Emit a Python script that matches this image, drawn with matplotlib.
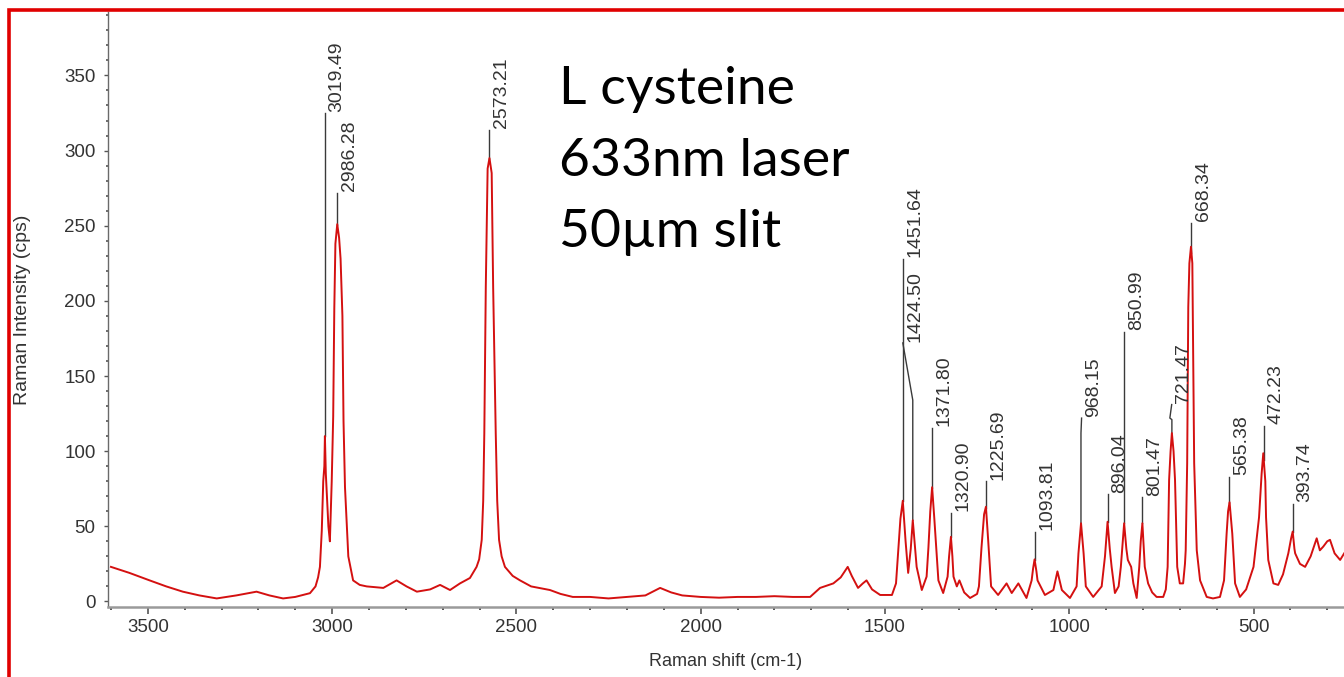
import numpy as np
import matplotlib.pyplot as plt
from matplotlib.lines import Line2D
from matplotlib.ticker import MultipleLocator

# Raman spectrum of L-cysteine (shift in cm-1, intensity in cps)
shift_cm = [
    3600, 3550, 3495, 3450, 3405, 3360, 3313, 3260, 3205, 3170,
    3133, 3100, 3060, 3045, 3038, 3033, 3028, 3024, 3021, 3019.5,
    3017, 3014, 3010, 3006, 3001, 2997, 2994, 2991, 2986, 2981,
    2977, 2972, 2969, 2965, 2956, 2943, 2925, 2906, 2861, 2825,
    2798, 2770, 2734, 2707, 2680, 2653, 2626, 2608, 2601, 2594,
    2590, 2587, 2583, 2578, 2573, 2567, 2563, 2556, 2552, 2547,
    2540, 2531, 2510, 2490, 2460, 2409, 2380, 2347, 2300, 2250,
    2200, 2150, 2110, 2080, 2050, 2000, 1950, 1900, 1850, 1800,
    1750, 1703, 1676, 1640, 1620, 1601, 1590, 1573, 1560, 1550,
    1535, 1513, 1481, 1470, 1465, 1458, 1451.6, 1444, 1437, 1430,
    1424.5, 1419, 1414, 1400, 1387, 1382, 1377, 1372, 1366, 1361,
    1355, 1342, 1330, 1326, 1321, 1317, 1314, 1305, 1298, 1285,
    1269, 1250, 1245, 1238, 1231, 1226, 1220, 1212, 1193, 1170,
    1156, 1138, 1116, 1102, 1098, 1094, 1089, 1086, 1066, 1043,
    1032, 1020, 998, 980, 975, 968, 961, 955, 935, 912,
    903, 896, 890, 885, 876, 866, 860, 851, 845, 841,
    832, 826, 817, 810, 806, 801.5, 795, 786, 775, 763,
    745, 738, 733, 729, 725, 721.5, 717, 713, 707, 700,
    691, 686, 684, 680, 677, 674, 669.7, 666, 663.4, 661,
    654, 645, 627, 610, 591, 580, 573, 569, 565, 561,
    557.6, 550, 537, 520, 500, 485, 478, 473.5, 468, 466,
    460, 446, 433, 420, 405.6, 398, 393.7, 389, 387, 374,
    360, 345, 328.6, 320, 310.7, 300, 292.5, 280, 265, 254,
]
intensity_cps = [
    23, 19, 14, 10, 6.5, 4, 2, 4, 6.5, 4,
    2, 3, 5.5, 10, 16, 23, 47, 80, 90, 110,
    85, 70, 50, 40, 80, 123, 195, 238, 251, 242,
    228, 190, 120, 76, 30, 14, 11, 10, 9, 14,
    10, 6.5, 8, 11, 7.6, 12, 15.6, 23, 28, 41,
    67, 112, 209, 288, 295, 285, 209, 112, 67, 41,
    30, 23, 17, 14, 10, 7.6, 5, 3, 3, 2,
    3, 4, 9, 6, 4, 3, 2.5, 3, 3, 3.5,
    3, 3, 9, 12, 16, 23, 17, 9, 12, 14,
    8, 4.3, 4.3, 12, 30, 55, 67, 40, 19, 35,
    54, 38, 23, 7.6, 16.5, 36, 60, 76, 55, 36,
    14, 5.6, 16.5, 30, 43, 30, 16.5, 10, 14, 6,
    2.3, 5, 10, 36, 58, 63, 41, 10, 4.3, 12,
    5.6, 12, 2.3, 14, 22, 28, 20, 14, 4.3, 7.6,
    20, 7.6, 2.3, 10, 32, 52, 32, 10, 3, 10,
    30, 53, 35, 23, 5.6, 10, 23, 52, 35, 27.6,
    23, 12, 2.3, 23, 40, 52, 23, 12, 6, 3,
    3, 8, 23, 81, 100, 112, 100, 81, 23, 12,
    12, 25, 34, 92, 196, 225, 236, 225, 156, 92,
    34, 14, 3, 2, 3, 14, 45, 60, 66, 55,
    45, 12, 3, 8, 23, 56, 85, 98.6, 80, 56,
    27.6, 12, 11, 18, 32, 42, 46.5, 35, 32, 25,
    23, 30, 42, 34, 36.5, 40, 41, 32, 27.6, 32,
]

# picked peaks and the height their leader line reaches
peak_labels = ["3019.49", "2986.28", "2573.21", "1451.64", "1424.50", "1371.80",
               "1320.90", "1225.69", "1093.81", "968.15", "896.04", "850.99",
               "801.47", "721.47", "668.34", "565.38", "472.23", "393.74"]
leader_top = [325, 272, 314, 228, 172, 115.5, 59, 80, 46.5, 122, 71.5, 179.5,
              69.5, 123, 252, 83, 117, 65]
# leaders that do not run straight up: intermediate points, last one is the label anchor
leader_bends = {
    "1424.50": [(1424.5, 134), (1451.5, 172)],
    "968.15": [(968.15, 112), (966.5, 122)],
    "721.47": [(721.47, 121), (727.0, 122), (722.0, 131)],
}

text_dark = "#333333"

fig = plt.figure(figsize=(13.44, 6.77), dpi=100)
ax = fig.add_axes([108 / 1344, 70 / 677, 1 - 108 / 1344, 595 / 677])

ax.plot(shift_cm, intensity_cps, color="#d41010", lw=1.4, zorder=3)

shift_asc = np.array(shift_cm)[::-1]
counts_asc = np.array(intensity_cps)[::-1]
for label, top in zip(peak_labels, leader_top):
    pos = float(label)
    base = np.interp(pos, shift_asc, counts_asc)
    pts = [(pos, base)] + leader_bends.get(label, [(pos, top)])
    xs, ys = zip(*pts)
    ax.plot(xs, ys, color="#3a3a3a", lw=1.0, zorder=2)
    ax.annotate(label, xy=pts[-1], xytext=(8.8, 1.0), textcoords="offset points",
                rotation=90, ha="center", va="bottom", fontsize=14,
                color=text_dark, family="Liberation Sans")

ax.set_xlim(3608, 254.5)
ax.set_ylim(-3.7, 392.2)

ax.xaxis.set_major_locator(MultipleLocator(500))
ax.xaxis.set_minor_locator(MultipleLocator(100))
ax.yaxis.set_major_locator(MultipleLocator(50))
ax.yaxis.set_minor_locator(MultipleLocator(10))
ax.set_yticks(np.arange(0, 351, 50))

for side in ("top", "right"):
    ax.spines[side].set_visible(False)
ax.spines["left"].set_color("#6a6a6a")
ax.spines["left"].set_linewidth(1.0)
ax.spines["bottom"].set_color("#9a9a9a")
ax.spines["bottom"].set_linewidth(1.8)

ax.tick_params(axis="both", which="both", colors="#555555", labelcolor=text_dark,
               labelsize=13.5)
ax.tick_params(axis="y", which="major", direction="out", length=3, width=1, pad=6)
ax.tick_params(axis="y", which="minor", direction="out", length=1.5, width=1.2)
ax.tick_params(axis="x", which="major", direction="out", length=5, width=1.2, pad=4)
ax.tick_params(axis="x", which="minor", direction="out", length=1.8, width=1.4)
for lbl in ax.get_xticklabels() + ax.get_yticklabels():
    lbl.set_family("Liberation Sans")

ax.set_xlabel("Raman shift (cm-1)", fontsize=13, color=text_dark,
              family="Liberation Sans", labelpad=12)
ax.set_ylabel("Raman Intensity (cps)", fontsize=14, color=text_dark,
              family="Liberation Sans", labelpad=24)

# sample notes
for i, line in enumerate(["L cysteine", "633nm laser", "50\u00b5m slit"]):
    fig.text(559 / 1344, 1 - (104 + 71.7 * i) / 677, line, fontsize=38.5,
             family="Lato", color="black", va="baseline", ha="left")

# red frame along the left and top edges
fig.add_artist(Line2D([9.2 / 1344, 9.2 / 1344, 1.0], [0.0, 1 - 9.7 / 677, 1 - 9.7 / 677],
                      transform=fig.transFigure, color="#e00000", lw=2.6,
                      solid_joinstyle="miter"))

fig.savefig("out.png", dpi=100, facecolor="white")
